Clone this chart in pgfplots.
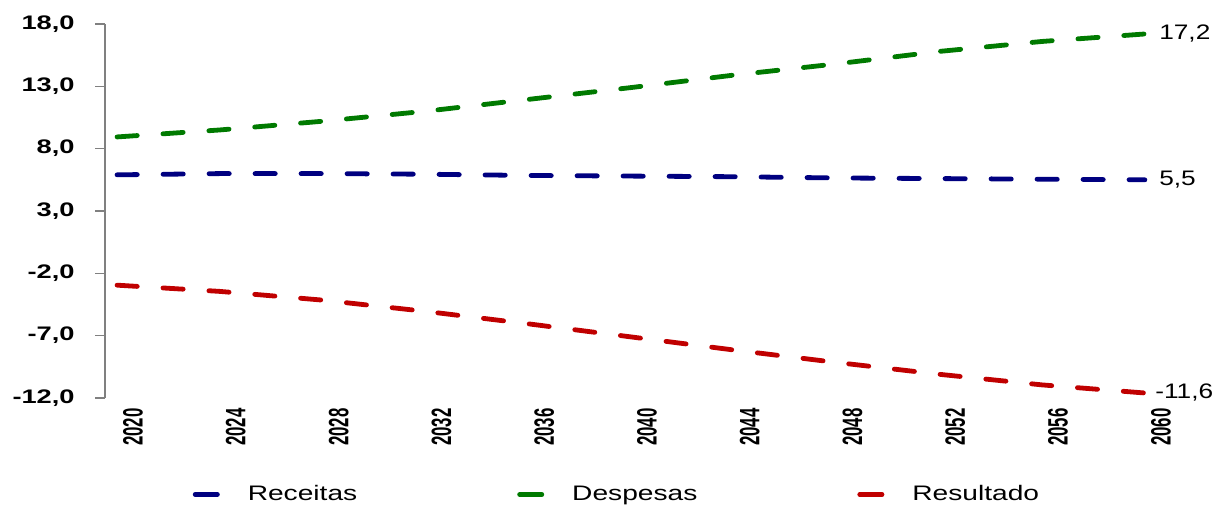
\documentclass[border=0pt]{standalone}
\usepackage{fontspec}
\setmainfont{Liberation Sans}
\usepackage{pgfplots}
\pgfplotsset{compat=1.18}

\definecolor{rec}{HTML}{000080}
\definecolor{desp}{HTML}{007A00}
\definecolor{res}{HTML}{C00000}

% the source chart is stretched sideways, so the text is too
\newcommand{\yl}[1]{\scalebox{1.39}[1]{\fontsize{9.8}{10}\selectfont\bfseries #1}}
\newcommand{\xl}[1]{\scalebox{0.6}[1]{\fontsize{14}{14}\selectfont\bfseries #1}}
\newcommand{\el}[1]{\scalebox{1.25}[1]{\fontsize{10.5}{11}\selectfont #1}}
\newcommand{\legtxt}[1]{\scalebox{1.34}[1]{\fontsize{10.5}{11}\selectfont #1}}

\tikzset{dashline/.style={line width=2.4pt, line cap=round, dash pattern=on 10.1pt off 12.9pt}}
\pgfplotsset{shortleg/.style={solid, line width=2.4pt, line cap=round,
    /pgfplots/legend image code/.code={\draw[##1] (0pt,0pt) -- (11.1pt,0pt);}}}

\begin{document}
\begin{tikzpicture}
\path[use as bounding box] (-52.5pt,-54pt) rectangle (560pt,199pt);
\begin{axis}[
    scale only axis,
    width=522.5pt, height=187pt,
    xmin=2019.53, xmax=2060.2,
    ymin=-12, ymax=18,
    clip=false,
    axis lines*=left,
    axis line style={gray, line width=0.6pt},
    x axis line style={draw=none},
    xtick={2020,2024,...,2060},
    xtick style={draw=none},
    xticklabels={\xl{2020},\xl{2024},\xl{2028},\xl{2032},\xl{2036},\xl{2040},
        \xl{2044},\xl{2048},\xl{2052},\xl{2056},\xl{2060}},
    xticklabel style={rotate=90, anchor=east, inner sep=0pt, yshift=-8pt},
    ytick={-12,-7,-2,3,8,13,18},
    yticklabels={\yl{-12,0},\yl{-7,0},\yl{-2,0},\yl{3,0},\yl{8,0},\yl{13,0},\yl{18,0}},
    ytick style={gray, line width=0.6pt},
    tick align=outside,
    major tick length=5pt,
    yticklabel style={anchor=east, inner sep=0pt, xshift=-10pt},
    legend columns=3,
    legend style={draw=none, fill=none, at={(0.0836,-0.258)}, anchor=west,
        inner sep=0pt, nodes={inner sep=0pt},
        /tikz/every odd column/.append style={column sep=14pt},
        /tikz/every even column/.append style={column sep=80pt}},
]
% legend: short solid strokes
\addlegendimage{rec, shortleg}
\addlegendentry{\legtxt{Receitas}}
\addlegendimage{desp, shortleg}
\addlegendentry{\legtxt{Despesas}}
\addlegendimage{res, shortleg}
\addlegendentry{\legtxt{Resultado}}

\addplot[rec, dashline, forget plot] coordinates {
    (2020,5.9) (2024,6.0) (2028,6.0) (2032,5.95) (2036,5.85) (2040,5.8)
    (2044,5.75) (2048,5.65) (2052,5.6) (2056,5.55) (2060,5.5)
} node[pos=1, anchor=west, inner sep=0pt, xshift=6pt, text=black] {\el{5,5}};

\addplot[desp, dashline, forget plot] coordinates {
    (2020,8.94) (2024,9.5) (2028,10.2) (2032,11.0) (2036,11.95) (2040,12.9)
    (2044,13.9) (2048,14.8) (2052,15.8) (2056,16.6) (2060,17.2)
} node[pos=1, anchor=west, inner sep=0pt, xshift=6pt, text=black] {\el{17,2}};

\addplot[res, dashline, forget plot] coordinates {
    (2020,-2.95) (2024,-3.45) (2028,-4.15) (2032,-5.05) (2036,-6.05) (2040,-7.1)
    (2044,-8.15) (2048,-9.15) (2052,-10.1) (2056,-10.95) (2060,-11.6)
} node[pos=1, anchor=west, inner sep=0pt, xshift=4pt, text=black] {\el{-11,6}};
\end{axis}
\end{tikzpicture}
\end{document}
